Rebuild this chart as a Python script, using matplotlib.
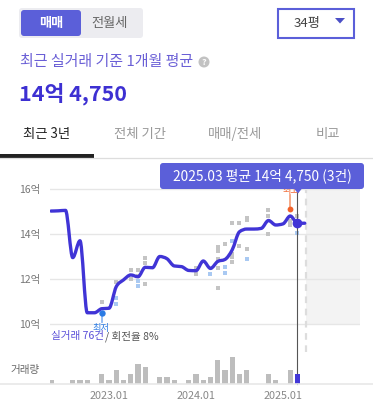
import numpy as np
import matplotlib
matplotlib.use("Agg")
import matplotlib.pyplot as plt
from matplotlib.path import Path
from matplotlib.patches import PathPatch, FancyBboxPatch, Rectangle, Polygon, Circle
from matplotlib.lines import Line2D

plt.rcParams['font.family'] = ['Noto Sans CJK KR', 'DejaVu Sans']

# ---------------- data ----------------
# month index: 0 = 2023.01
line_months = list(range(-8, 28))
line_prices = [15.02, 15.03, 15.05, 12.95, 13.70, 10.50, 10.50, 10.68, 10.70,
               11.66, 11.96, 12.18, 12.10, 12.52, 12.50, 13.00, 12.90, 12.58,
               12.55, 12.38, 12.37, 12.80, 12.47, 12.78, 12.87, 13.30, 14.10,
               14.22, 14.22, 14.25, 14.60, 14.40, 14.45, 14.80, 14.475, 14.48]

vol_months = [-8, -5, -4, -3, -1, 0, 1, 2, 3, 4, 5, 7, 8, 9, 11, 12, 13, 14,
              15, 16, 17, 18, 19, 22, 23, 25, 26]
vol_counts = [1, 1, 1, 1, 3, 1, 4, 1, 3, 6, 5, 2, 2, 1, 1, 3, 1, 2,
              7, 4, 8, 3, 4, 3, 1, 4, 3]

gray_m = [-1, 1, 3, 3, 4, 4, 5, 5, 5, 12, 12, 15, 15, 15, 15, 15, 16,
          17, 17, 17, 17, 18, 18, 19, 19, 19, 22, 22, 22, 25, 25, 26]
gray_v = [11.0, 11.88, 12.4, 12.0, 12.4, 12.13, 12.95, 12.72, 11.78, 12.5, 12.21,
          13.44, 13.26, 12.89, 12.5, 11.61, 13.54, 14.5, 13.11, 12.96, 12.77,
          14.5, 13.47, 14.7, 14.62, 13.33, 15.07, 14.81, 13.99, 14.58, 14.4, 14.8]
blue_m = [1, 1, 4, 4, 14, 16, 16, 17, 19, 26]
blue_v = [11.14, 10.89, 11.92, 11.7, 12.21, 12.52, 12.28, 13.69, 12.89, 14.03]

low_point = (-1, 10.5)
high_point = (25, 15.11)
sel_point = (26, 14.475)

yticks = [10, 12, 14, 16]
ytick_labels = ['10억', '12억', '14억', '16억']
xticks = [0, 12, 24]
xtick_labels = ['2023.01', '2024.01', '2025.01']

# ---------------- figure ----------------
W, H = 373, 409
fig = plt.figure(figsize=(W / 100, H / 100), dpi=100)
fig.patch.set_facecolor('white')

def fr(x0, y0, x1, y1):
    """pixel box (top-left origin) -> figure fraction rect"""
    return [x0 / W, 1 - y1 / H, (x1 - x0) / W, (y1 - y0) / H]

XL = ((50 - 109) / 7.25, (360 - 109) / 7.25)
PT, PB = 175, 330
YL = (10 - (PB - 324) / 22.5, 10 + (324 - PT) / 22.5)

LINE_C = '#4034d6'
ACC = '#5b5fd9'

ax = fig.add_axes(fr(50, PT, 360, PB))
ax.set_xlim(*XL)
ax.set_ylim(*YL)
for s in ax.spines.values():
    s.set_visible(False)
ax.set_yticks(yticks)
ax.set_yticklabels(ytick_labels, fontsize=7.5, color='#777')
ax.tick_params(axis='y', length=0, pad=7)
ax.set_xticks([])
ax.yaxis.grid(True, color='#e6e6e6', lw=1.0)
ax.set_axisbelow(True)

# future shading + dashed line
fr10 = (10 - YL[0]) / (YL[1] - YL[0])
ax.axvspan((306 - 109) / 7.25, XL[1], ymin=fr10, ymax=1, color='#f3f3f3', zorder=0, lw=0)
ax.axvline((306 - 109) / 7.25, ymin=(PB - 352) / (PB - PT), ymax=(PB - 190) / (PB - PT),
           color='#dddddd', lw=1.6, ls=(0, (3, 2.5)), clip_on=False, zorder=1)

# transactions
ax.plot(gray_m, gray_v, ls='none', marker='s', ms=2.4, color='#c4c4c4', mew=0, zorder=2)
ax.plot(blue_m, blue_v, ls='none', marker='s', ms=2.4, color='#a9c9f2', mew=0, zorder=2)

# smooth monotone line
xs = np.array(line_months, float)
ys = np.array(line_prices, float)
h = np.diff(xs)
sl = np.diff(ys) / h
t = np.zeros(len(xs))
for i in range(1, len(xs) - 1):
    p = (sl[i - 1] * h[i] + sl[i] * h[i - 1]) / (h[i - 1] + h[i])
    sg = (np.sign(sl[i - 1]) + np.sign(sl[i]))
    t[i] = sg * min(abs(sl[i - 1]), abs(sl[i]), 0.5 * abs(p))
t[0] = (3 * sl[0] - t[1]) / 2
t[-1] = (3 * sl[-1] - t[-2]) / 2
verts = [(xs[0], ys[0])]
codes = [Path.MOVETO]
for i in range(len(xs) - 1):
    d = h[i] / 3
    verts += [(xs[i] + d, ys[i] + t[i] * d), (xs[i + 1] - d, ys[i + 1] - t[i + 1] * d),
              (xs[i + 1], ys[i + 1])]
    codes += [Path.CURVE4] * 3
ax.add_patch(PathPatch(Path(verts, codes), fill=False, edgecolor=LINE_C, lw=2.4,
                       capstyle='round', joinstyle='round', zorder=4))

# selection line and dot
ax.axvline(sel_point[0], ymin=(PB - 383.7) / (PB - PT), ymax=(PB - 192) / (PB - PT),
           color='#555555', lw=0.8, clip_on=False, zorder=5)
ax.plot([sel_point[0]], [sel_point[1]], 'o', ms=7, color=LINE_C, mew=0, zorder=6)

# low / high markers
ax.plot([low_point[0], low_point[0]], [low_point[1], 10 + (324 - 322) / 22.5],
        color='#8db9f2', lw=1.3, zorder=5, clip_on=False)
ax.plot([low_point[0]], [low_point[1]], 'o', ms=4.6, color='#2b7be4', mew=0, zorder=6)
ax.plot([high_point[0], high_point[0]], [high_point[1], 10 + (324 - 195) / 22.5],
        color='#f5a27e', lw=1.3, zorder=5, clip_on=False)
ax.plot([high_point[0]], [high_point[1]], 'o', ms=4.2, color='#f2622a', mew=0, zorder=6)

# ---------------- volume ----------------
axv = fig.add_axes(fr(50, 340, 360, 383.7))
axv.set_xlim(*XL)
axv.set_ylim(0, 43.7 / 3.33)
for s in axv.spines.values():
    s.set_visible(False)
axv.set_yticks([])
colors = ['#bdbdbd'] * len(vol_months)
colors[-1] = '#4338d8'
axv.bar(vol_months, vol_counts, width=0.73, color=colors, lw=0, zorder=2)
axv.set_xticks(xticks)
axv.set_xticklabels(xtick_labels, fontsize=7.8, color='#888')
axv.tick_params(axis='x', length=0, pad=5)
axv.patch.set_alpha(0)

# ---------------- overlay (pixel coords) ----------------
ov = fig.add_axes([0, 0, 1, 1])
ov.set_xlim(0, W)
ov.set_ylim(H, 0)
ov.axis('off')
ov.patch.set_alpha(0)
ov.set_zorder(10)

ov.add_line(Line2D([0, W], [383.7, 383.7], color='#e8e8e8', lw=1.2))
ov.text(40, 370, '거래량', fontsize=7.6, color='#666', ha='right', va='center')

# header toggle
ov.add_patch(FancyBboxPatch((19, 8), 124, 30, boxstyle='round,pad=0,rounding_size=3',
                            fc='#ececf0', ec='none'))
ov.add_patch(FancyBboxPatch((21, 10), 60, 26, boxstyle='round,pad=0,rounding_size=3',
                            fc=ACC, ec='none'))
ov.text(51, 23, '매매', fontsize=9.5, color='white', ha='center', va='center', weight='bold')
ov.text(110, 23, '전월세', fontsize=9.5, color='#666', ha='center', va='center')
# dropdown
ov.add_patch(Rectangle((278, 8.5), 76, 29.5, fc='white', ec=ACC, lw=1.5))
ov.text(307, 24, '34평', fontsize=9.5, color='#444', ha='center', va='center')
ov.add_patch(Polygon([(335, 18), (345, 18), (340, 23.5)], closed=True, fc='#4b4fc6', ec='none'))

ov.text(20, 62, '최근 실거래 기준 1개월 평균', fontsize=10.8, color='#6a5fd6', ha='left', va='center')
ov.add_patch(Circle((204, 62), 5.5, fc='#c2c2c2', ec='none'))
ov.text(204, 62.3, '?', fontsize=6.5, color='white', ha='center', va='center', weight='bold')
ov.text(19, 94, '14억 4,750', fontsize=15.5, color='#3d30d2', ha='left', va='center', weight='bold')

# tabs
ov.text(47, 134, '최근 3년', fontsize=9.6, color='#222', ha='center', va='center')
ov.text(140, 134, '전체 기간', fontsize=9.6, color='#999', ha='center', va='center')
ov.text(235, 134, '매매/전세', fontsize=9.6, color='#999', ha='center', va='center')
ov.text(328, 134, '비교', fontsize=9.6, color='#999', ha='center', va='center')
ov.add_line(Line2D([0, W], [157.5, 157.5], color='#dddddd', lw=0.9))
ov.add_patch(Rectangle((0, 154), 94, 3.5, fc='#222', ec='none'))

# 최고 label (under tooltip)
ov.text(291, 190, '최고', fontsize=6.6, color='#f2622a', ha='center', va='center', zorder=1)
# tooltip
ov.add_patch(FancyBboxPatch((160, 163), 204, 26, boxstyle='round,pad=0,rounding_size=3',
                            fc=ACC, ec='none', zorder=3))
ov.add_patch(Polygon([(294, 188.5), (302, 188.5), (298, 193.5)], closed=True,
                     fc=ACC, ec='none', zorder=3))
ov.text(262, 176, '2025.03 평균 14억 4,750 (3건)', fontsize=9.9, color='white',
        ha='center', va='center', zorder=4)

# 최저 label
ov.text(101, 328, '최저', fontsize=6.6, color='#2b7be4', ha='center', va='center')
ov.text(51, 336, '실거래 76건', fontsize=7.6, color='#5a4fd8', ha='left', va='center')
ov.text(105, 336, '/ 회전율 8%', fontsize=7.6, color='#555', ha='left', va='center')

fig.savefig('out.png', dpi=100, facecolor='white')
